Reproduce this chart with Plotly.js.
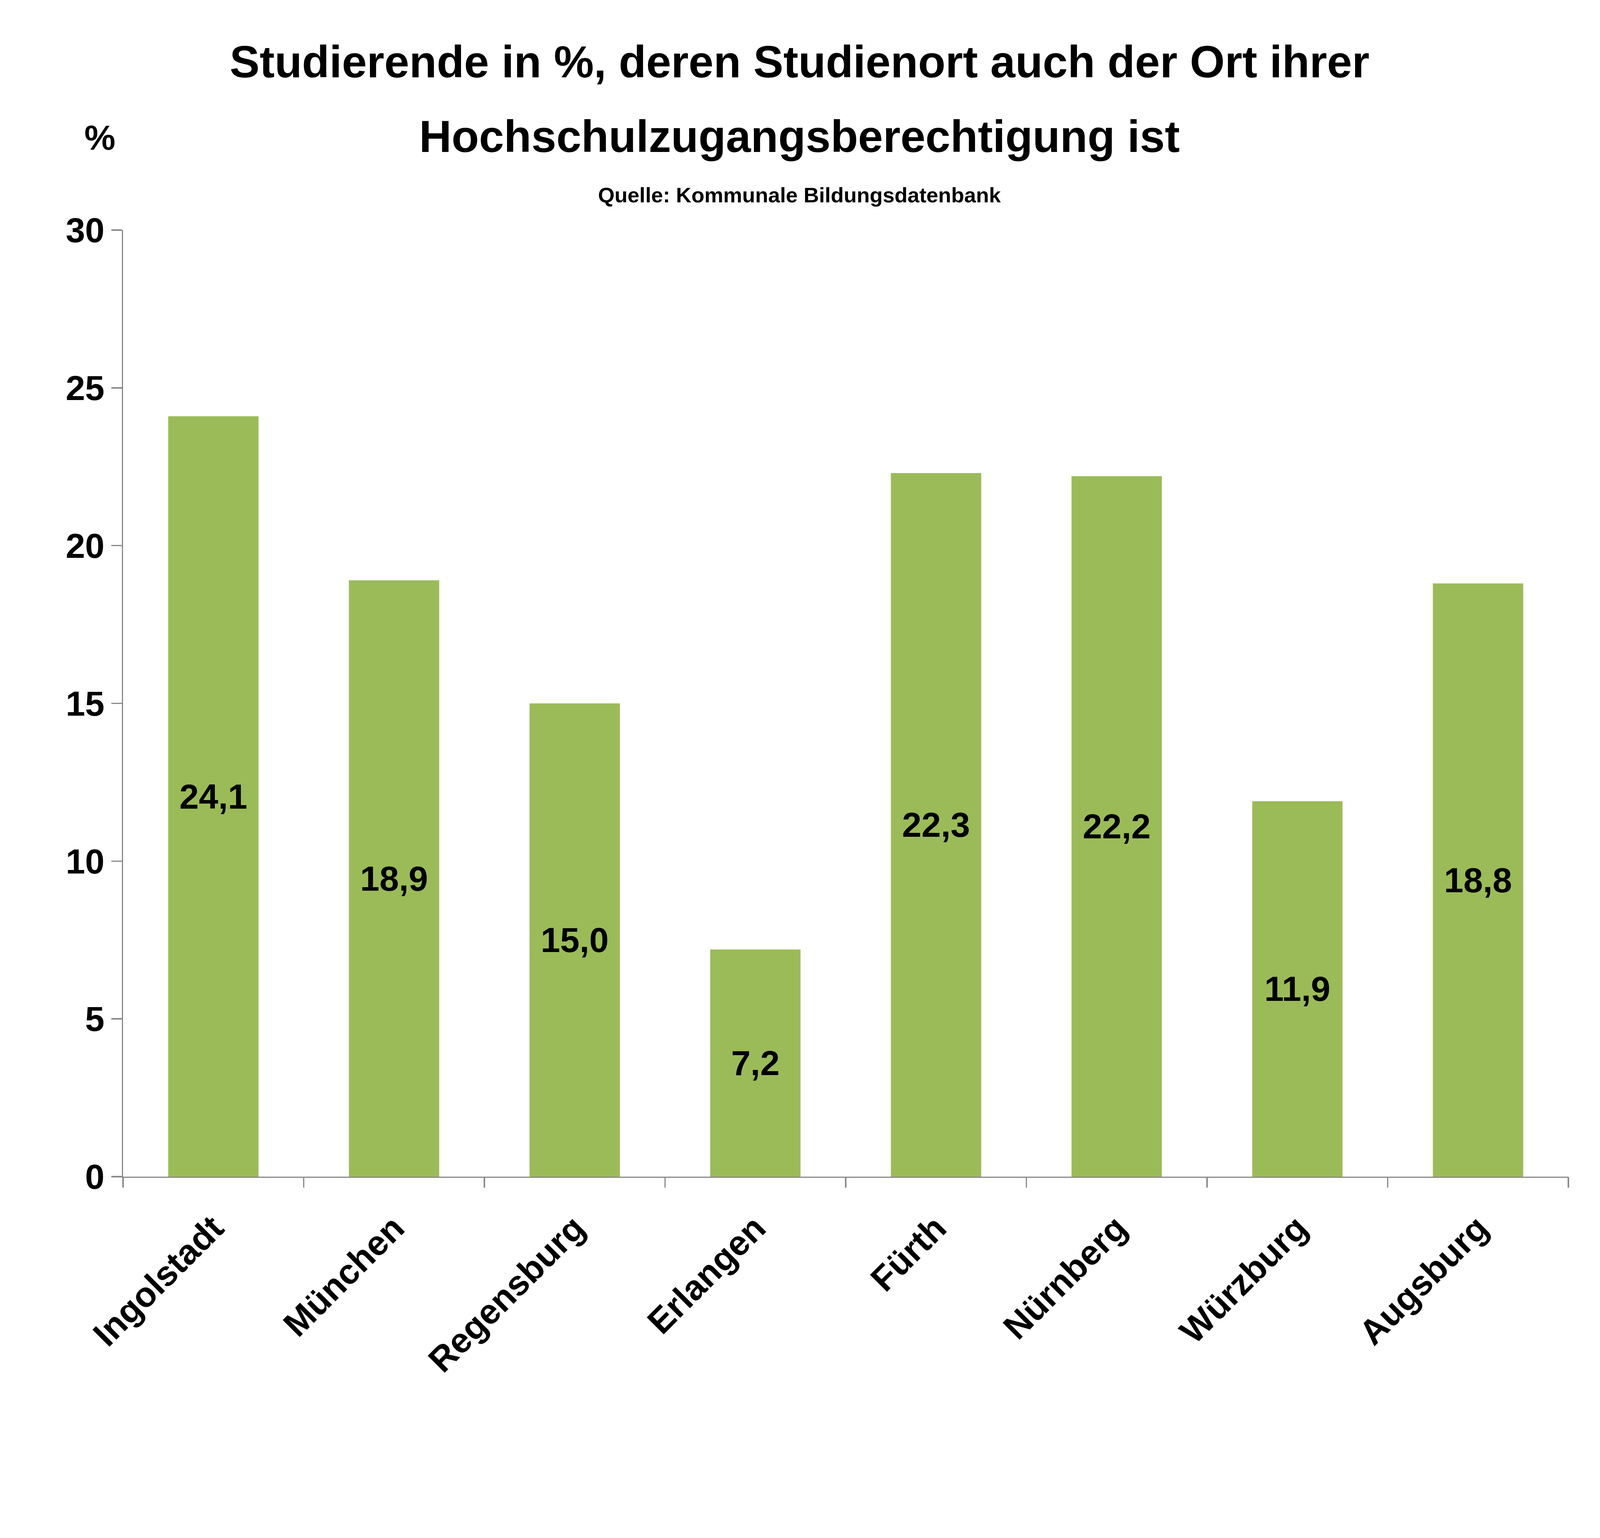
<!DOCTYPE html>
<html>
<head>
<meta charset="utf-8">
<script src="https://cdn.plot.ly/plotly-3.0.1.min.js"></script>
<style>
  html, body { margin: 0; padding: 0; background: #fff; overflow: hidden; }
  #chart { width: 100vw; height: 100vh; }
</style>
</head>
<body>
<div id="chart"></div>
<script>
// Staedte und Anteile (Prozent) wie im Originaldiagramm
const cities = ['Ingolstadt', 'München', 'Regensburg', 'Erlangen', 'Fürth', 'Nürnberg', 'Würzburg', 'Augsburg'];
const shares = [24.1, 18.9, 15.0, 7.2, 22.3, 22.2, 11.9, 18.8];
const yTicks = [0, 5, 10, 15, 20, 25, 30];

const FONT = 'Liberation Sans, Arial, sans-serif';
const AXIS_GREY = '#898989';

// Fenster ist evtl. schmaler als 6095 -> alles auf das Referenzformat 6095 x 3937 beziehen
const W = window.innerWidth || 6095;
const H = window.innerHeight || 3937;
const sx = W / 6095, sy = H / 3937, s = Math.min(sx, sy);

// Striche zwischen den Kategorien (wie Excel) auf einer zweiten x-Achse
const boundaries = [];
for (let i = 0; i <= cities.length; i++) boundaries.push(i - 0.5);

const bars = {
    type: 'bar',
    x: cities,
    y: shares,
    marker: {color: '#9bbb59'},
    width: 0.5,
    texttemplate: '%{y:.1f}',
    textposition: 'inside',
    insidetextanchor: 'middle',
    constraintext: 'none',
    textfont: {family: FONT, size: 133 * s, color: '#000', weight: 700},
    hoverinfo: 'skip'
};

// unsichtbare Spur, damit die zweite x-Achse gezeichnet wird
const tickHolder = {
    type: 'scatter',
    x: boundaries,
    y: boundaries.map(() => 0),
    xaxis: 'x2',
    yaxis: 'y',
    mode: 'none',
    hoverinfo: 'skip',
    showlegend: false
};

const layout = {
    width: W,
    height: H,
    separators: ',.',
    paper_bgcolor: '#fff',
    plot_bgcolor: '#fff',
    showlegend: false,
    margin: {l: 468 * sx, r: 121 * sx, t: 589 * sy, b: 925 * sy, pad: 0},
    font: {family: FONT, color: '#000', weight: 700},
    xaxis: {
        type: 'category',
        range: [-0.5, cities.length - 0.5],
        // unsichtbare Striche schieben nur die Beschriftung nach unten
        ticks: 'outside',
        ticklen: 40 * sy,
        tickcolor: 'rgba(0,0,0,0)',
        showline: true,
        linecolor: AXIS_GREY,
        linewidth: 5 * s,
        showgrid: false,
        tickangle: -45,
        tickfont: {family: FONT, size: 133 * s, weight: 700, color: '#000'}
    },
    xaxis2: {
        overlaying: 'x',
        anchor: 'y',
        side: 'bottom',
        range: [-0.5, cities.length - 0.5],
        tickvals: boundaries,
        ticks: 'outside',
        ticklen: 40 * s,
        tickwidth: 5 * s,
        tickcolor: AXIS_GREY,
        showticklabels: false,
        showline: false,
        showgrid: false,
        zeroline: false
    },
    yaxis: {
        range: [0, 30],
        tickvals: yTicks,
        ticks: 'outside',
        ticklen: 39 * s,
        tickwidth: 5 * s,
        tickcolor: AXIS_GREY,
        showline: true,
        linecolor: AXIS_GREY,
        linewidth: 5 * s,
        showgrid: false,
        zeroline: false,
        tickfont: {family: FONT, size: 133 * s, weight: 700, color: '#000'}
    },
    annotations: [
        {
            text: 'Studierende in %, deren Studienort auch der Ort ihrer',
            xref: 'paper', yref: 'paper', x: 0.468, y: 1.178,
            xanchor: 'center', yanchor: 'middle', showarrow: false,
            font: {family: FONT, size: 171 * s, weight: 700}
        },
        {
            text: 'Hochschulzugangsberechtigung ist',
            xref: 'paper', yref: 'paper', x: 0.468, y: 1.099,
            xanchor: 'center', yanchor: 'middle', showarrow: false,
            font: {family: FONT, size: 171 * s, weight: 700}
        },
        {
            text: 'Quelle: Kommunale Bildungsdatenbank',
            xref: 'paper', yref: 'paper', x: 0.468, y: 1.037,
            xanchor: 'center', yanchor: 'middle', showarrow: false,
            font: {family: FONT, size: 81 * s, weight: 700}
        },
        {
            text: '%',
            xref: 'paper', yref: 'paper', x: -0.0162, y: 1.098,
            xanchor: 'center', yanchor: 'middle', showarrow: false,
            font: {family: FONT, size: 133 * s, weight: 700}
        }
    ]
};

Plotly.newPlot('chart', [bars, tickHolder], layout, {displayModeBar: false, staticPlot: true});
</script>
</body>
</html>
